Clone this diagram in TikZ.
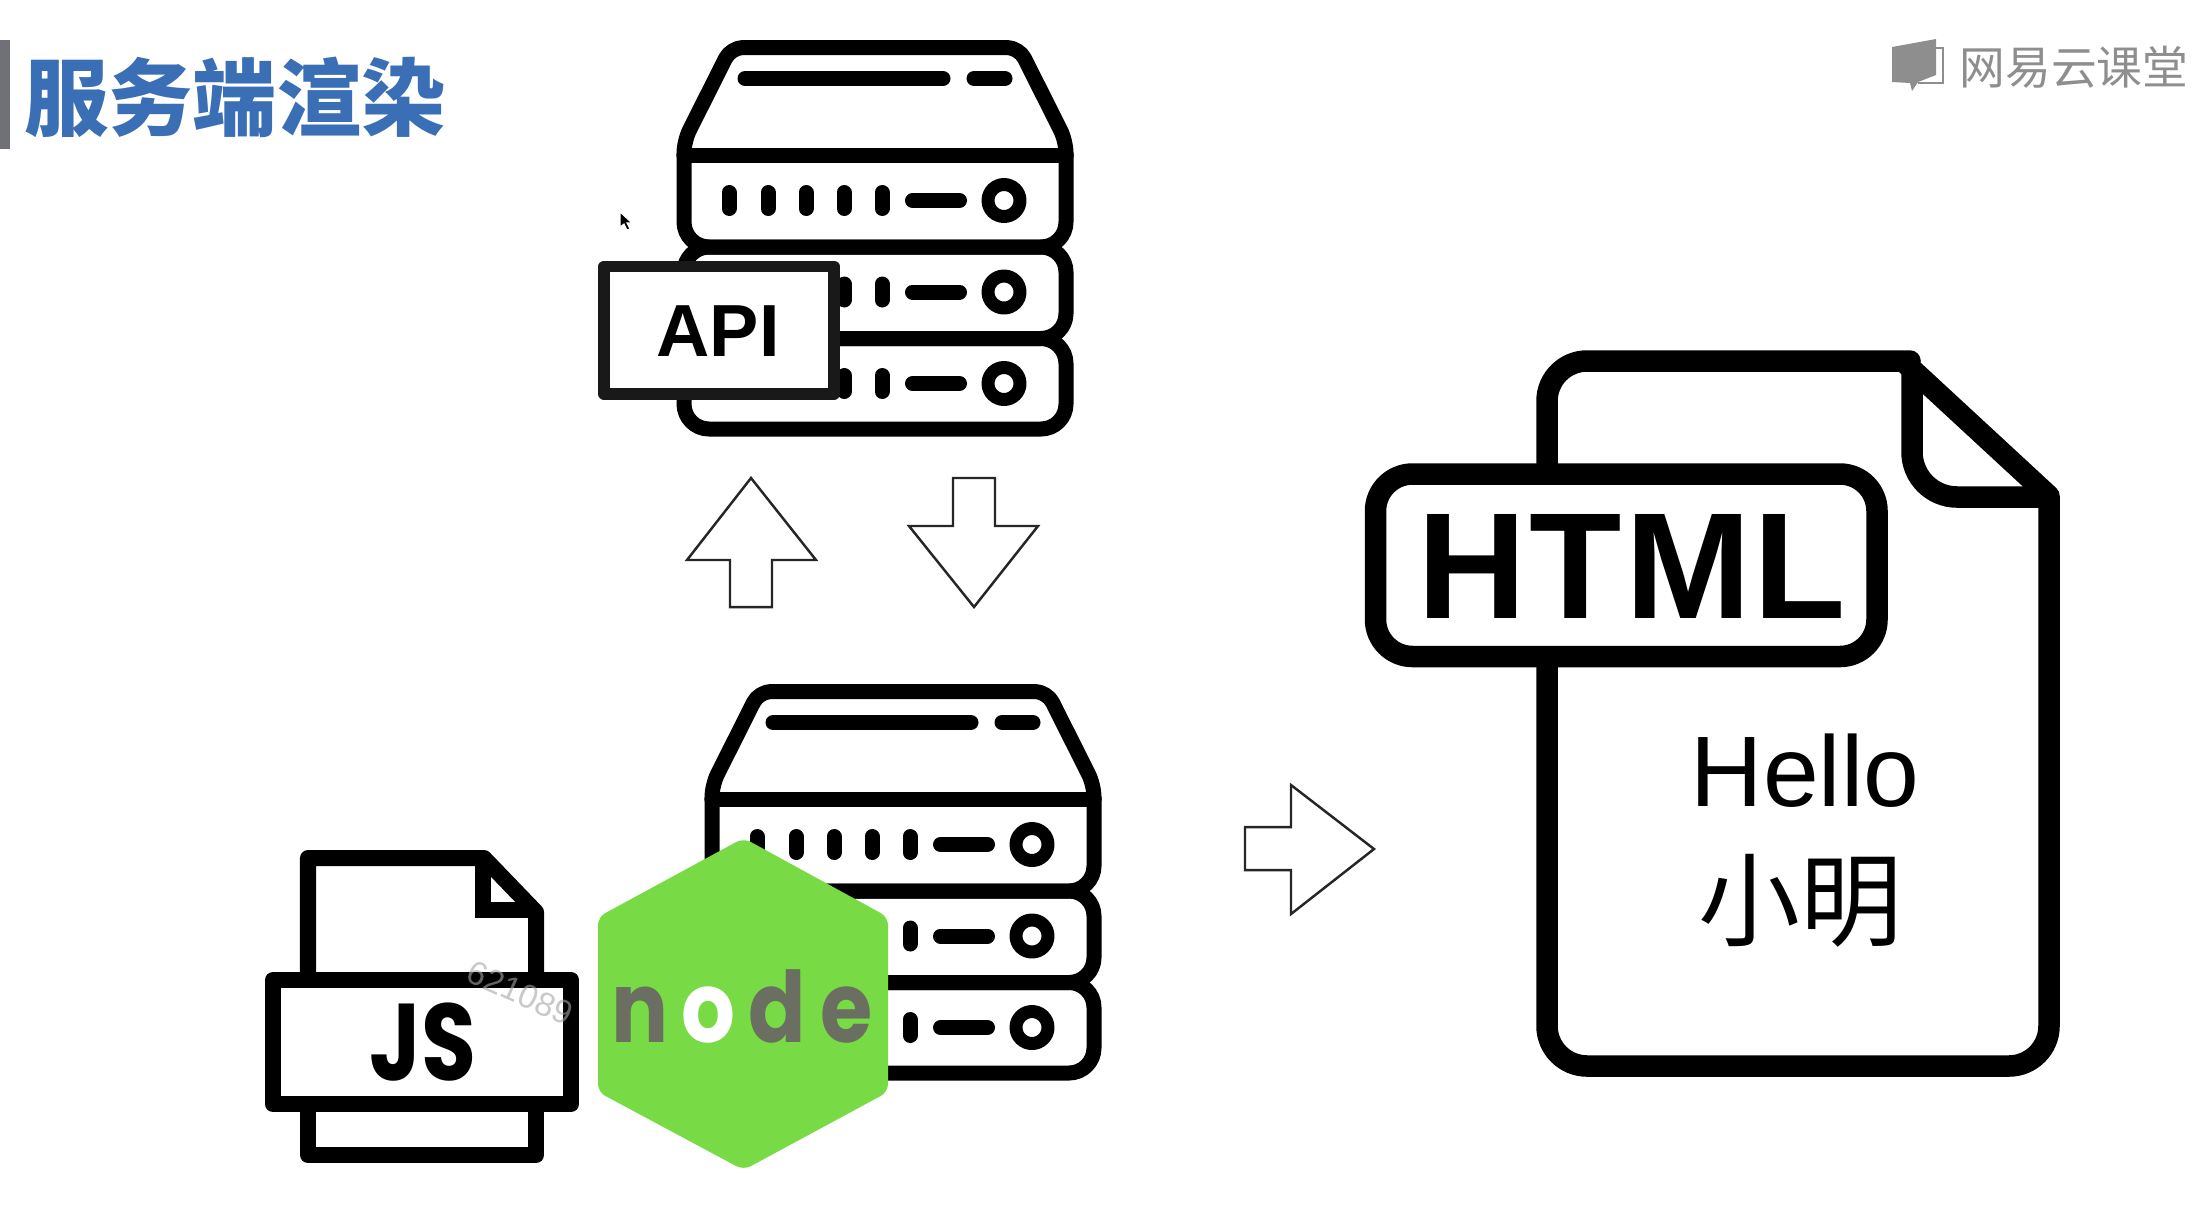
\documentclass[tikz,border=0pt]{standalone}
\usepackage{fontspec}
\setmainfont{Liberation Sans}
\newfontfamily\cjkfont{Noto Sans CJK SC}
\newfontfamily\poppinsfont{Poppins}
\definecolor{TitleBlue}{HTML}{3A6FB5}
\definecolor{BarGray}{HTML}{6F7176}
\definecolor{LogoGray}{HTML}{8E8E8E}
\definecolor{NodeGreen}{HTML}{78DA45}
\definecolor{NodeGray}{HTML}{6B6F62}
\tikzset{
  thick line/.style={line width=0.15cm, line cap=round, line join=round},
  block arrow/.style={draw=black!85, fill=white, line width=0.7pt, line join=miter},
  node letter/.style={font=\poppinsfont\bfseries\fontsize{28}{32}\selectfont, inner sep=0pt, xscale=0.86, transform shape}
}
\newcommand{\drawserver}[2]{
  \begin{scope}[shift={(#1,#2)}, thick line]
    % cap and three units
    \draw[rounded corners=0.12cm] (0,107.5) -- (0,93.5) -- (47,0) -- (335,0) -- (382,93.5) -- (382,107.5);
    \draw (0,107.5) -- (382,107.5);
    \draw[rounded corners=0.25cm] (0,107.5) -- (0,199.5) -- (382,199.5) -- (382,107.5);
    \draw[rounded corners=0.25cm] (0,199.5) rectangle (382,291);
    \draw[rounded corners=0.25cm] (0,291) rectangle (382,381.5);
    % slots on the cap
    \draw (61,31) -- (259,31);
    \draw (290,31) -- (321,31);
    % front of the first unit
    \foreach \x in {45,84,122} {
      \draw (\x,145) -- (\x,161);
    }
    % front of all three units
    \foreach \y in {153,244.5,336} {
      \draw (228.5,\y) -- (275.5,\y);
      \draw[line width=0.13cm] (320,\y) circle (16);
      \foreach \x in {160,198} {
        \draw (\x,\y-8) -- (\x,\y+8);
      }
    }
  \end{scope}
}

\begin{document}
\begin{tikzpicture}[x=0.01cm, y=-0.01cm]
  \useasboundingbox (0,0) rectangle (2194,1214);

  % --- Title ---
  \fill[BarGray] (0,40) rectangle (10,149);
  \node[text=TitleBlue, inner sep=0pt, font=\cjkfont\bfseries\fontsize{24}{28}\selectfont] (title) at (235,97) {服务端渲染};

  % --- Logo ---
  \fill[LogoGray] (1892,47) -- (1936,39) -- (1936,75) -- (1918,82) -- (1912,91) -- (1910,83) -- (1892,82) -- cycle;
  \draw[LogoGray, line width=0.5pt] (1936,48) -- (1943,48) -- (1943,83) -- (1918,83);
  \node[text=LogoGray, inner sep=0pt, font=\cjkfont\fontsize{13}{15}\selectfont] (logo) at (2074,67) {网易云课堂};

  % --- Upper server with API label ---
  \drawserver{684}{47.5}
  \draw[draw=black!90, fill=white, line width=0.115cm, line join=round] (604,266.5) rectangle (834,394);
  \node[inner sep=0pt, font=\bfseries\fontsize{21}{25}\selectfont] (api) at (718,331) {API};
  \fill[black, draw=white, line width=0.3pt] (620,212) -- (620,227) -- (624,224) -- (627,230) -- (630,229) -- (627,223) -- (632,223) -- cycle;

  % --- Arrows ---
  \draw[block arrow] (751,478) -- (816,560) -- (772,560) -- (772,607) -- (730,607) -- (730,560) -- (687,560) -- cycle;
  \draw[block arrow] (974,607) -- (1038,526) -- (995,526) -- (995,478) -- (953,478) -- (953,526) -- (909,526) -- cycle;
  \draw[block arrow] (1374,849) -- (1291,785) -- (1291,827) -- (1245,827) -- (1245,870) -- (1291,870) -- (1291,914) -- cycle;

  % --- Lower server ---
  \drawserver{712}{691.5}

  % --- JS file ---
  \begin{scope}[line width=0.16cm, line join=round]
    \draw (308,972) -- (308,858) -- (484,858) -- (536,912) -- (536,972);
    \draw[line join=miter] (483,858) -- (483,910) -- (536,910);
    \draw (308,1112) -- (308,1155) -- (536,1155) -- (536,1112);
    \draw[fill=white] (273,980) rectangle (571,1104);
  \end{scope}
  \node[inner sep=0pt, xscale=0.82, transform shape, font=\poppinsfont\bfseries\fontsize{31}{35}\selectfont] (js) at (423,1042) {JS};
  \node[inner sep=0pt, rotate=-24, opacity=0.6, text=black!35, font=\fontsize{9.5}{11}\selectfont] (mark) at (520,993) {621089};

  % --- Node hexagon ---
  \fill[NodeGreen, rounded corners=0.08cm] (743.6,838) -- (888,917) -- (888,1092) -- (743.6,1170) -- (598,1092) -- (598,917) -- cycle;
  \node[node letter, text=NodeGray, anchor=base] (letterN) at (640,1042) {n};
  \node[node letter, text=white, anchor=base] (letterO) at (708,1042) {o};
  \node[node letter, text=NodeGray, anchor=base] (letterD) at (777.5,1042) {d};
  \node[node letter, text=NodeGray, anchor=base] (letterE) at (847,1042) {e};

  % --- HTML file ---
  \begin{scope}[line width=0.215cm, line join=round]
    \draw[rounded corners=0.4cm] (1547,600) -- (1547,361) -- (1870,361) [sharp corners] -- (1903,361) -- (2049,496) -- (2049,520) [rounded corners=0.4cm] -- (2049,1066) -- (1547,1066) -- cycle;
    \draw[rounded corners=0.45cm] (1912,370) -- (1912,497) -- (2049,497);
    \draw[fill=white, rounded corners=0.37cm] (1375.5,474) rectangle (1877,656.5);
  \end{scope}
  \node[inner sep=0pt, font=\bfseries\fontsize{43}{50}\selectfont\addfontfeature{LetterSpace=2}] (html) at (1632,566) {HTML};
  \node[inner sep=0pt, anchor=base, font=\fontsize{28.5}{34}\selectfont] (hello) at (1805,806) {Hello};
  \node[inner sep=0pt, font=\cjkfont\fontsize{29}{34}\selectfont] (name) at (1800,901) {小明};
\end{tikzpicture}
\end{document}
